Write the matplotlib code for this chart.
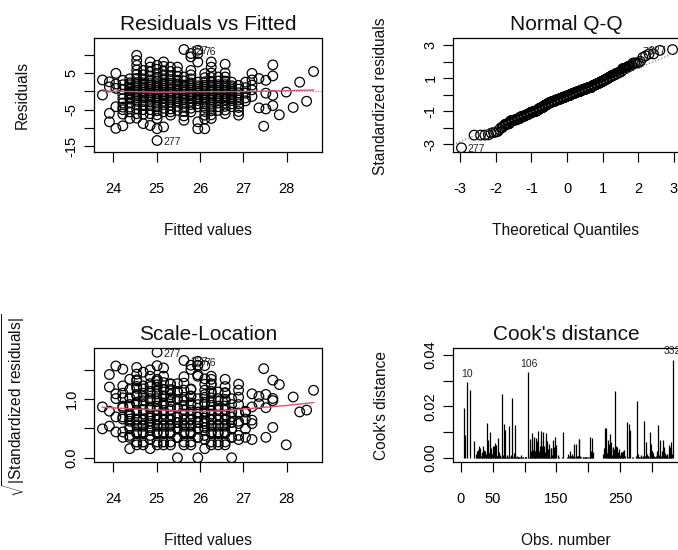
"""
Regression diagnostics (R plot.lm style) redrawn with matplotlib.
Residuals / fitted values are read off the reference picture;
leverage, standardized residuals and Cook's distance are derived from them.
"""

import numpy as np
import matplotlib
matplotlib.use("Agg")
import matplotlib.pyplot as plt
from statistics import NormalDist

plt.rcParams["font.family"] = ["Liberation Sans", "DejaVu Sans"]
plt.rcParams["mathtext.fontset"] = "custom"
plt.rcParams["mathtext.rm"] = "Liberation Sans"
plt.rcParams["mathtext.it"] = "Liberation Sans:italic"
plt.rcParams["mathtext.bf"] = "Liberation Sans:bold"

W, H = 678, 550
RED = "#DF536B"

# observations in obs-number order (1..332)
fitted = [
    25.01, 26.11, 24.38, 25.48, 24.54, 26.58, 27.68, 24.69, 25.79, 28.62,
    25.16, 26.26, 24.22, 25.63, 27.68, 26.73, 24.85, 25.95, 25.32, 28.46,
    26.42, 24.54, 26.89, 24.06, 27.05, 23.91, 27.20, 23.75, 27.36, 27.52,
    27.68, 27.99, 25.01, 26.11, 24.38, 25.48, 26.58, 24.69, 25.79, 25.16,
    23.91, 26.26, 24.22, 25.63, 26.73, 27.52, 24.85, 25.95, 25.32, 26.42,
    24.54, 26.89, 24.06, 27.05, 28.30, 23.91, 27.20, 27.52, 27.68, 25.01,
    26.11, 24.38, 25.48, 24.22, 26.58, 24.69, 25.79, 24.69, 25.16, 24.22,
    26.26, 24.22, 25.63, 26.73, 24.85, 25.95, 25.32, 26.42, 24.54, 27.83,
    26.89, 24.06, 27.05, 27.20, 25.01, 25.01, 26.11, 24.38, 25.48, 26.58,
    24.69, 25.79, 25.16, 26.26, 24.22, 25.63, 26.73, 24.85, 25.95, 25.32,
    26.42, 24.54, 26.89, 27.05, 27.20, 24.06, 25.01, 26.11, 24.38, 25.48,
    26.58, 24.69, 25.79, 25.16, 26.26, 24.22, 25.63, 27.36, 26.73, 24.85,
    25.95, 25.32, 26.42, 26.58, 24.54, 26.89, 27.05, 25.01, 25.16, 26.11,
    24.38, 25.48, 26.58, 25.79, 24.69, 25.79, 25.16, 26.26, 24.22, 25.95,
    25.63, 26.73, 24.85, 25.95, 25.32, 26.42, 24.54, 25.79, 26.89, 25.01,
    26.11, 24.38, 25.48, 26.58, 24.69, 25.79, 25.16, 26.26, 24.22, 25.63,
    24.54, 26.73, 24.85, 25.95, 25.32, 26.42, 24.54, 26.89, 25.01, 26.11,
    24.38, 25.48, 26.58, 24.69, 25.79, 25.16, 26.26, 24.22, 25.63, 26.73,
    24.85, 25.95, 25.32, 26.42, 24.54, 26.89, 25.01, 26.11, 24.38, 25.48,
    26.58, 24.69, 25.79, 25.16, 26.26, 25.63, 26.73, 24.85, 25.95, 25.32,
    26.42, 24.54, 27.20, 26.89, 25.01, 24.06, 26.11, 24.38, 25.48, 26.58,
    24.69, 25.79, 25.16, 26.26, 25.63, 26.73, 24.85, 25.95, 25.32, 26.42,
    24.54, 25.01, 26.11, 24.38, 25.48, 26.11, 25.63, 24.69, 25.79, 25.16,
    26.26, 25.63, 26.73, 24.85, 25.95, 25.32, 26.42, 24.54, 25.01, 26.11,
    23.91, 24.38, 25.48, 26.58, 24.69, 25.79, 25.16, 26.26, 25.63, 26.73,
    24.85, 25.95, 25.32, 26.42, 24.54, 25.01, 26.11, 24.38, 25.48, 28.15,
    26.58, 24.69, 24.38, 25.79, 24.54, 25.16, 26.26, 25.63, 24.85, 25.95,
    25.32, 26.42, 24.54, 25.01, 26.11, 25.48, 25.01, 26.58, 24.69, 25.79,
    25.16, 26.26, 25.63, 24.85, 25.95, 25.32, 24.54, 26.42, 24.54, 25.01,
    26.11, 25.48, 26.58, 24.69, 25.79, 25.16, 25.95, 26.26, 25.63, 24.85,
    25.95, 25.32, 24.54, 25.01, 26.11, 25.48, 26.58, 24.69, 24.85, 25.79,
    25.16, 26.26, 25.63, 24.85, 25.32, 24.54, 25.01, 23.75, 26.11, 26.58,
    25.16, 26.26, 24.85, 25.32, 25.01, 25.16, 26.26, 24.85, 25.32, 25.01,
    26.26, 27.47,
]
resid = [
    -0.2, 0.1, 0.1, 0.0, 9.8, 0.3, 4.2, 0.2, 0.3, 5.4,
    0.3, 0.2, 0.5, -0.3, 7.2, 0.0, 0.1, 0.0, 0.2, -2.7,
    0.3, 0.3, -0.4, 2.0, 1.0, 2.6, 3.1, -1.0, 3.5, 3.0,
    -1.1, -0.2, 3.8, -4.4, -4.3, -4.1, -4.1, -3.9, -3.6, -3.6,
    -6.0, -4.3, -5.0, -4.4, -3.4, -4.8, -5.0, -3.4, -3.8, -4.2,
    -4.8, -4.4, -4.2, -1.8, 2.5, 1.2, -1.4, -0.5, -3.9, -4.2,
    1.6, 2.3, 2.0, -9.4, 1.8, 2.3, 2.3, -8.8, 2.3, -6.2,
    1.7, 1.8, 1.7, 1.5, 2.1, 11.2, 2.2, 1.8, 2.4, -6.4,
    1.6, 0.8, 2.5, 1.7, -10.2, 1.3, -1.4, -1.6, -1.5, -1.2,
    -1.3, -1.2, -1.2, -1.3, -2.0, -1.8, -1.0, -1.4, -1.0, -1.3,
    -1.2, -1.2, -1.4, -0.5, 0.4, -10.1, -1.7, 4.8, -5.6, 5.3,
    7.4, 5.7, 5.7, 5.6, 8.0, 3.0, 3.9, -4.5, 2.5, 6.6,
    10.3, 5.4, 3.9, 5.0, 5.8, -6.5, -2.6, 6.0, -9.7, -6.5,
    1.2, -5.2, -6.1, 10.3, -6.2, -5.6, -5.6, -6.4, -3.2, 1.5,
    -6.7, -4.2, -2.9, -8.3, -6.5, -5.2, -2.7, 9.4, 0.6, -6.4,
    0.6, -2.1, 0.5, 0.8, 0.7, 0.8, 0.8, 0.7, -0.8, 0.7,
    7.1, 0.5, 0.6, 0.5, 0.7, 0.8, 0.8, -2.4, 0.8, -2.4,
    3.4, -3.0, -2.2, -2.8, -2.7, -2.7, -2.3, -4.3, -2.3, -2.0,
    -6.1, -2.5, -2.8, -2.2, -6.1, -5.5, -2.2, 1.1, -0.5, 1.0,
    1.3, 1.2, 1.3, 1.3, 1.2, 1.2, 1.0, 1.1, 1.0, 1.2,
    1.3, 1.3, 4.9, -3.4, 2.8, 4.9, -0.4, -3.2, -0.5, -0.2,
    -0.3, -0.2, -0.2, -0.3, -0.8, -0.5, -0.4, -0.5, -0.3, -0.2,
    -0.7, -0.7, 3.7, 0.6, 6.6, -10.2, 11.4, 4.5, 4.5, 8.0,
    5.0, -7.9, -2.5, 8.0, 8.0, 6.6, 2.8, 4.6, -5.3, -5.5,
    -8.3, -1.0, -2.0, -5.1, -5.0, -4.6, -4.6, -5.3, -3.3, -1.5,
    -3.9, -4.2, -4.8, -3.2, -3.7, 4.9, -0.9, 1.8, -1.0, -4.4,
    -0.7, -0.8, -7.4, -0.7, -7.3, -0.7, -0.8, 0.2, -0.9, -1.5,
    -0.8, -0.7, -0.2, 0.3, 2.6, 1.5, -13.4, 2.8, 1.7, 1.8,
    1.8, 2.7, 2.8, 1.6, 2.5, 1.7, 8.4, -1.7, 1.8, -3.2,
    -7.5, 4.1, -1.7, -1.8, -1.7, 4.5, -10.2, 6.6, -5.5, 4.2,
    -2.0, 4.3, -1.7, 1.8, -1.9, 3.0, 3.9, 3.4, -9.3, 3.4,
    -1.7, -7.4, -1.3, -1.9, -1.8, 3.5, -7.4, 3.1, -3.4, -3.2,
    3.4, -1.8, 3.1, 3.2, -1.2, 6.8, 3.8, 5.3, -5.6, 7.1,
    -3.3, -9.5,
]

# red smoother curves
rvf_smooth_x = [23.75, 24.5, 25.0, 25.5, 26.0, 26.5, 27.0, 27.5, 28.0, 28.62]
rvf_smooth_y = [0.1, -0.1, -0.25, -0.2, -0.1, -0.1, -0.05, 0.05, 0.2, 0.35]
sl_smooth_x = [23.75, 24.5, 25.0, 25.5, 26.0, 26.5, 27.0, 27.5, 28.0, 28.62]
sl_smooth_y = [0.86, 0.83, 0.815, 0.80, 0.79, 0.80, 0.83, 0.86, 0.89, 0.94]

# ---- derived diagnostics ----
f = np.array(fitted)
r = np.array(resid)
n = len(r)
obs = np.arange(1, n + 1)

dev = f - f.mean()
hat = 1 / n + dev**2 / np.sum(dev**2)
sigma = np.sqrt(np.sum(r**2) / (n - 2))
rs = r / (sigma * np.sqrt(1 - hat))
cook = rs**2 * hat / (2 * (1 - hat))
sqrt_abs = np.sqrt(np.abs(rs))

nd = NormalDist()
theo = np.empty(n)
theo[np.argsort(rs, kind="stable")] = [nd.inv_cdf((i - 0.5) / n) for i in range(1, n + 1)]

top_r = np.argsort(-np.abs(r))[:3]
top_rs = np.argsort(-np.abs(rs))[:3]
top_cook = np.argsort(-cook)[:3]


def ext(lo, hi, fr=0.04):
    d = (hi - lo) * fr
    return lo - d, hi + d


fig = plt.figure(figsize=(W / 100, H / 100), dpi=100)


def ftext(x, y, s, **kw):
    fig.text(x / W, 1 - y / H, s, **kw)


def add_panel(left, top):
    ax = fig.add_axes([left / W, 1 - (top + 114) / H, 228 / W, 114 / H])
    for sp in ax.spines.values():
        sp.set_linewidth(0.9)
    ax.tick_params(length=7.5, width=0.85, labelsize=10.5)
    ax.tick_params(axis="x", pad=14.0)
    ax.tick_params(axis="y", pad=3.6, labelrotation=90)
    return ax


def set_ticks(ax, xt, xl, yt, yl):
    ax.set_xticks(xt, xl)
    ax.set_yticks(yt, yl)
    for t in ax.get_yticklabels():
        t.set_va("center")


def id_side(ax, x, y, idx):
    xmid = (x.min() + x.max()) / 2
    for i in idx:
        right = x[i] <= xmid
        ax.annotate(str(i + 1), (x[i], y[i]), xytext=(4.5 if right else -4.5, -1.2),
                    textcoords="offset points", ha="left" if right else "right",
                    va="center", fontsize=7.5, color="#222222", annotation_clip=False)


circ = dict(s=48, facecolors="none", edgecolors="black", linewidths=0.9)
fit_ticks = [24, 25, 26, 27, 28]

# Residuals vs Fitted
ax1 = add_panel(94, 38)
ax1.scatter(f, r, **circ)
ax1.plot(rvf_smooth_x, rvf_smooth_y, color=RED, lw=1.0)
ax1.axhline(0, color="gray", lw=0.75, ls=":")
ax1.set_xlim(*ext(f.min(), f.max()))
ax1.set_ylim(*ext(*ext(r.min(), r.max(), 0.08)))
set_ticks(ax1, fit_ticks, [str(v) for v in fit_ticks],
          [-15, -10, -5, 0, 5, 10], ["-15", "", "-5", "", "5", ""])
id_side(ax1, f, r, top_r)

# Normal Q-Q
ax2 = add_panel(453, 38)
ax2.scatter(theo, rs, **circ)
yq = np.quantile(rs, [0.25, 0.75])
xq = [nd.inv_cdf(0.25), nd.inv_cdf(0.75)]
slope = (yq[1] - yq[0]) / (xq[1] - xq[0])
ax2.axline((0, yq[0] - slope * xq[0]), slope=slope, color="gray", lw=0.9, ls=":")
ax2.set_xlim(*ext(theo.min(), theo.max()))
qlo, qhi = rs.min(), rs.max()
ax2.set_ylim(*ext(qlo, qhi + (qhi - qlo) * 0.075))
set_ticks(ax2, [-3, -2, -1, 0, 1, 2, 3], ["-3", "-2", "-1", "0", "1", "2", "3"],
          [-3, -2, -1, 0, 1, 2, 3], ["-3", "", "-1", "", "1", "", "3"])
id_side(ax2, theo, rs, top_rs)

# Scale-Location
ax3 = add_panel(94, 348)
ax3.scatter(f, sqrt_abs, **circ)
ax3.plot(sl_smooth_x, sl_smooth_y, color=RED, lw=1.0)
ax3.set_xlim(*ext(f.min(), f.max()))
ax3.set_ylim(*ext(0, sqrt_abs.max()))
set_ticks(ax3, fit_ticks, [str(v) for v in fit_ticks],
          [0.0, 0.5, 1.0, 1.5], ["0.0", "", "1.0", ""])
id_side(ax3, f, sqrt_abs, top_rs)

# Cook's distance
ax4 = add_panel(453, 348)
ax4.vlines(obs, 0, cook, colors="black", lw=0.9)
ax4.set_xlim(*ext(1, n))
ax4.set_ylim(*ext(0, cook.max() * 1.075))
set_ticks(ax4, [0, 50, 100, 150, 200, 250, 300], ["0", "50", "", "150", "", "250", ""],
          [0, 0.01, 0.02, 0.03, 0.04], ["0.00", "", "0.02", "", "0.04"])
for i in top_cook:
    ax4.annotate(str(i + 1), (obs[i], cook[i]), xytext=(0, 2.5), textcoords="offset points",
                 ha="center", va="bottom", fontsize=7.5, color="#222222", annotation_clip=False)

# titles and axis labels (R draws these in the outer margins)
tkw = dict(ha="center", va="baseline", fontsize=15, color="#111111")
ftext(208, 30, "Residuals vs Fitted", **tkw)
ftext(566, 30, "Normal Q-Q", **tkw)
ftext(208, 340, "Scale-Location", **tkw)
ftext(566, 340, "Cook's distance", **tkw)

xkw = dict(ha="center", va="baseline", fontsize=11.2, color="#111111")
ftext(208, 235, "Fitted values", **xkw)
ftext(566, 235, "Theoretical Quantiles", **xkw)
ftext(208, 545, "Fitted values", **xkw)
ftext(566, 545, "Obs. number", **xkw)

ykw = dict(rotation=90, rotation_mode="anchor", ha="center", va="baseline",
           fontsize=11.2, color="#111111")
ftext(27, 95, "Residuals", **ykw)
ftext(385, 96, "Standardized residuals", **ykw)
ftext(23, 405, r"$\sqrt{|\mathrm{Standardized\ residuals}|}$", **ykw)
ftext(386, 405, "Cook's distance", **ykw)

fig.savefig("out.png", dpi=100)
